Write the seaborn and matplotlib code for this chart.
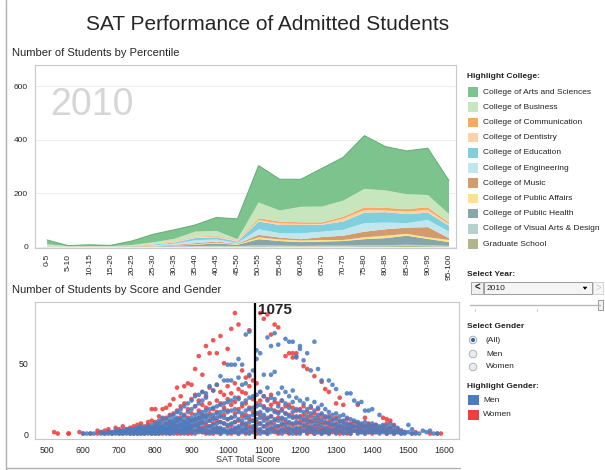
import numpy as np
import pandas as pd
import matplotlib
matplotlib.use("Agg")
import matplotlib.pyplot as plt
from matplotlib.patches import Rectangle, Circle, Polygon
import seaborn as sns

# ---- top chart: students per percentile band, by college ----
PERCENTILES = ["0-5", "5-10", "10-15", "15-20", "20-25", "25-30", "30-35", "35-40",
               "40-45", "45-50", "50-55", "55-60", "60-65", "65-70", "70-75", "75-80",
               "80-85", "85-90", "90-95", "95-100"]

arts      = [16, 2, 5, 3, 15, 30, 34, 25, 50, 76, 138, 117, 103, 143, 162, 199, 164, 162, 175, 125]
business  = [7, 2, 2, 2, 2, 5, 9, 19, 18, 3, 59, 41, 58, 59, 60, 69, 65, 55, 46, 32]
comm      = [0, 0, 0, 0, 1, 1, 2, 2, 3, 2, 7, 7, 6, 6, 7, 10, 10, 10, 10, 6]
dentistry = [1, 0, 0, 0, 1, 2, 3, 3, 3, 4, 5, 6, 4, 3, 11, 10, 6, 9, 10, 6]
education = [0, 0, 0, 0, 1, 3, 4, 8, 8, 5, 29, 31, 31, 26, 31, 39, 39, 34, 27, 22]
engineer  = [0, 0, 0, 0, 0, 2, 4, 11, 8, 3, 21, 16, 22, 20, 22, 32, 25, 17, 27, 24]
music     = [1, 1, 1, 1, 1, 1, 2, 4, 4, 2, 9, 7, 5, 11, 16, 21, 24, 23, 38, 7]
pub_aff   = [0, 0, 0, 0, 0, 1, 1, 2, 3, 2, 7, 6, 6, 6, 4, 7, 9, 7, 6, 8]
pub_hlth  = [0, 0, 0, 0, 1, 1, 3, 5, 9, 5, 23, 17, 14, 15, 17, 23, 26, 34, 23, 14]
vis_arts  = [1, 0, 0, 0, 0, 1, 1, 2, 2, 2, 3, 3, 2, 3, 3, 3, 4, 4, 4, 2]
grad      = [0, 0, 0, 0, 0, 0, 1, 1, 2, 1, 3, 2, 2, 2, 2, 3, 3, 4, 3, 2]

COLLEGES = ["College of Arts and Sciences", "College of Business", "College of Communication",
            "College of Dentistry", "College of Education", "College of Engineering",
            "College of Music", "College of Public Affairs", "College of Public Health",
            "College of Visual Arts & Design", "Graduate School"]
COLLEGE_COLORS = ["#7cc38e", "#c8e6bd", "#f9a862", "#fdd2aa", "#80cfdd", "#c0e6ee",
                  "#d39a6b", "#fce38a", "#86a6aa", "#b4d2cc", "#b3b58b"]

# ---- bottom chart: counts at each SAT score (one dot per college) ----
WOMEN = {
    520: [2], 530: [1], 560: [1, 1], 590: [2], 600: [1], 620: [1], 640: [3, 1], 650: [2],
    660: [3, 1], 670: [4, 2], 680: [2, 1], 690: [5, 2], 700: [4, 2, 1], 710: [6, 3, 1],
    720: [4, 2], 730: [5, 3, 1], 740: [6, 2, 1], 750: [7, 4, 1], 760: [8, 5, 2, 1],
    770: [6, 3, 1], 780: [7, 9, 4, 2], 790: [18, 10, 5, 2, 1], 800: [18, 9, 6, 3, 1],
    810: [13, 8, 5, 2, 1], 820: [18, 11, 6, 3, 1], 830: [19, 12, 8, 4, 2],
    840: [21, 14, 9, 5, 2, 1], 850: [25, 15, 8, 4, 2], 860: [33, 17, 11, 6, 3, 1],
    870: [27, 20, 12, 7, 3, 1], 880: [34, 22, 14, 9, 5, 2], 890: [36, 18, 12, 8, 4, 1],
    900: [35, 25, 15, 10, 6, 3, 1], 910: [46, 28, 20, 11, 7, 3], 920: [55, 24, 17, 12, 8, 4, 2],
    930: [42, 30, 21, 14, 9, 5, 2], 940: [62, 27, 19, 13, 7, 3, 1], 950: [57, 33, 22, 15, 10, 6, 2],
    960: [66, 31, 18, 12, 8, 4, 1], 970: [57, 35, 24, 16, 10, 5, 2], 980: [69, 30, 22, 13, 9, 4, 1],
    990: [50, 28, 19, 14, 8, 3], 1000: [60, 34, 25, 17, 11, 6, 2], 1010: [74, 29, 21, 12, 7, 3, 1],
    1020: [85, 36, 23, 15, 9, 4, 2], 1030: [77, 32, 26, 18, 10, 5, 1], 1040: [45, 30, 20, 13, 8, 3],
    1050: [40, 29, 22, 14, 7, 4, 1], 1060: [73, 41, 34, 19, 11, 6, 2], 1070: [38, 25, 16, 10, 5, 2],
    1080: [36, 22, 15, 9, 4, 1], 1090: [85, 30, 24, 14, 8, 3], 1100: [81, 27, 20, 12, 6, 2],
    1110: [84, 25, 18, 11, 7, 3, 1], 1120: [70, 28, 21, 13, 8, 4], 1130: [77, 23, 17, 10, 5, 2],
    1140: [75, 22, 16, 12, 6, 3, 1], 1150: [24, 18, 11, 7, 3], 1160: [55, 20, 15, 9, 5, 2],
    1170: [57, 21, 14, 8, 4, 1], 1180: [57, 54, 19, 13, 7, 3], 1190: [57, 17, 12, 8, 4, 1],
    1200: [18, 13, 9, 5, 2], 1210: [48, 20, 14, 10, 6, 3], 1220: [46, 16, 11, 7, 4, 1],
    1230: [19, 13, 9, 5, 2], 1240: [41, 15, 10, 6, 3, 1], 1250: [18, 12, 8, 4, 2],
    1260: [37, 14, 9, 5, 3, 1], 1270: [32, 12, 8, 4, 2], 1280: [30, 13, 9, 6, 3, 1],
    1290: [11, 7, 4, 2], 1300: [22, 12, 8, 5, 2], 1310: [26, 10, 6, 3, 1], 1320: [21, 9, 5, 2],
    1330: [11, 7, 4, 1], 1340: [8, 5, 3, 1], 1350: [9, 6, 3], 1360: [21, 8, 5, 2],
    1370: [7, 4, 2], 1380: [12, 6, 3, 1], 1390: [8, 5, 2], 1400: [6, 3, 1], 1410: [7, 4, 2],
    1420: [5, 2], 1430: [12, 6, 3], 1440: [11, 8, 4, 1], 1450: [10, 5, 2], 1460: [7, 3, 1],
    1470: [4, 2], 1480: [3, 1], 1490: [2], 1510: [1], 1520: [2], 1560: [1], 1580: [1], 1590: [1],
}

MEN = {
    600: [1], 610: [1], 620: [1], 630: [1], 650: [1, 2], 660: [1], 670: [2, 1], 680: [1, 2],
    690: [2, 1, 3], 700: [2, 1, 3], 710: [3, 1, 2], 720: [2, 4, 1], 730: [3, 1, 2, 4],
    740: [2, 4, 1, 3], 750: [5, 2, 1, 3], 760: [4, 2, 6, 1, 3], 770: [3, 5, 1, 2],
    780: [6, 3, 1, 4, 2], 790: [5, 2, 7, 1, 3], 800: [6, 3, 8, 1, 4, 2], 810: [7, 4, 1, 10, 2, 5],
    820: [9, 5, 2, 12, 3, 6], 830: [8, 4, 11, 1, 6, 2, 3], 840: [10, 6, 2, 13, 4, 1, 7],
    850: [11, 7, 3, 14, 5, 1, 9], 860: [12, 8, 4, 16, 6, 2, 10], 870: [15, 9, 5, 18, 7, 2, 11, 3],
    880: [13, 10, 6, 20, 8, 3, 1, 4], 890: [16, 11, 7, 22, 9, 4, 2, 5],
    900: [18, 12, 8, 24, 10, 5, 2, 6], 910: [20, 14, 9, 27, 11, 6, 3, 1],
    920: [22, 15, 10, 28, 12, 7, 3, 5], 930: [24, 16, 11, 30, 13, 8, 4, 2],
    940: [26, 17, 12, 29, 14, 9, 5, 2], 950: [34, 18, 13, 10, 6, 3, 1],
    960: [31, 19, 14, 11, 7, 4, 2], 970: [35, 20, 15, 12, 8, 5, 2], 980: [41, 21, 16, 13, 9, 5, 3, 1],
    990: [38, 22, 17, 12, 8, 4, 2], 1000: [49, 38, 23, 16, 11, 7, 3, 1],
    1010: [49, 38, 24, 17, 12, 8, 4, 2], 1020: [49, 26, 18, 13, 9, 5, 2],
    1030: [53, 40, 25, 16, 11, 6, 3, 1], 1040: [49, 35, 22, 15, 10, 7, 4, 2],
    1050: [70, 36, 24, 17, 12, 8, 5, 2], 1060: [72, 42, 26, 18, 13, 9, 4, 1],
    1070: [45, 27, 19, 14, 10, 6, 3], 1080: [59, 53, 28, 20, 15, 11, 7, 3],
    1090: [57, 30, 21, 16, 12, 8, 4, 1], 1100: [42, 27, 19, 14, 10, 6, 2],
    1110: [68, 33, 24, 17, 12, 8, 4, 1], 1120: [62, 42, 26, 18, 13, 9, 5, 2],
    1130: [71, 44, 25, 16, 11, 7, 3], 1140: [63, 29, 20, 15, 10, 6, 2],
    1150: [33, 24, 17, 12, 8, 4, 1], 1160: [67, 30, 22, 15, 11, 7, 3],
    1170: [65, 27, 19, 13, 9, 5, 2], 1180: [65, 31, 23, 16, 12, 8, 4, 1],
    1190: [55, 54, 26, 18, 13, 9, 5, 2], 1200: [62, 60, 24, 17, 12, 8, 4, 1],
    1210: [52, 22, 16, 11, 7, 3], 1220: [57, 25, 18, 13, 9, 5, 2], 1230: [45, 20, 15, 10, 6, 3],
    1240: [65, 23, 17, 12, 8, 4, 1], 1250: [46, 19, 14, 10, 6, 2], 1260: [38, 21, 15, 11, 7, 3, 1],
    1270: [18, 13, 9, 5, 2], 1280: [38, 16, 12, 8, 4, 1], 1290: [35, 14, 10, 7, 3],
    1300: [32, 15, 11, 7, 4, 1], 1310: [13, 9, 6, 3], 1320: [14, 10, 7, 4, 1],
    1330: [29, 12, 8, 5, 2], 1340: [29, 11, 7, 4, 1], 1350: [24, 10, 6, 3],
    1360: [22, 9, 6, 3, 1], 1370: [23, 8, 5, 2], 1380: [17, 9, 6, 3, 1], 1390: [17, 7, 4, 2],
    1400: [18, 8, 5, 2], 1410: [7, 4, 2], 1420: [14, 6, 3, 1], 1430: [7, 4, 2], 1440: [6, 3, 1],
    1450: [8, 5, 2], 1460: [6, 3, 1], 1470: [5, 2], 1480: [3, 1], 1490: [2, 1], 1500: [7, 2],
    1510: [4, 1], 1520: [1], 1530: [1], 1540: [3], 1550: [2], 1560: [3], 1570: [1], 1580: [1],
}
GENDER_COLORS = {"Men": "#4a7cc0", "Women": "#ee3f3f"}
MEDIAN_SCORE = 1075
YEAR = "2010"

sns.set_style("white")
plt.rcParams["font.family"] = ["Liberation Sans", "DejaVu Sans"]

fig = plt.figure(figsize=(6.05, 4.70), dpi=100)
W, H = 605, 470

def box(l, t, r, b):
    return [l / W, 1 - b / H, (r - l) / W, (b - t) / H]

# ---------- stacked area ----------
ax1 = fig.add_axes(box(35, 65, 456, 248))
x = np.arange(len(PERCENTILES))
layers = [arts, business, comm, dentistry, education, engineer, music, pub_aff, pub_hlth, vis_arts, grad]
ax1.stackplot(x, *layers[::-1], colors=COLLEGE_COLORS[::-1], linewidth=0.4, edgecolor="none")
ax1.plot(x, np.sum(layers, axis=0), color="#62ad75", lw=0.7)
ax1.set_xlim(-0.57, 19.33)
ax1.set_ylim(-4, 680)
ax1.set_yticks([0, 200, 400, 600])
ax1.grid(axis="y", color="#ececec", lw=0.7)
ax1.set_axisbelow(True)
ax1.set_xticks(x)
ax1.set_xticklabels(PERCENTILES, rotation=90, fontsize=6)
ax1.set_xticks(x[:-1] + 0.5, minor=True)
ax1.tick_params(axis="x", which="major", length=0, pad=4)
ax1.tick_params(axis="x", which="minor", length=4, color="#c8c8c8")
ax1.tick_params(axis="y", length=3, color="#c8c8c8", labelsize=6, pad=2)
for sp in ax1.spines.values():
    sp.set_color("#c8c8c8")
    sp.set_linewidth(0.8)
ax1.text(0.036, 0.727, YEAR, transform=ax1.transAxes, fontsize=27, color="#d6d6d6")

# ---------- scatter ----------
ax2 = fig.add_axes(box(35, 302, 459, 439))
rows = [(s, c, "Women") for s, cs in WOMEN.items() for c in cs]
rows += [(s, c, "Men") for s, cs in MEN.items() for c in cs]
df = pd.DataFrame(rows, columns=["score", "count", "gender"])
sns.scatterplot(data=df, x="score", y="count", hue="gender", palette=GENDER_COLORS,
                s=11, alpha=0.88, linewidth=0, legend=False, ax=ax2)
ax2.axvline(MEDIAN_SCORE, color="black", lw=1.6)
ax2.set_xlim(467, 1640)
ax2.set_ylim(-2.8, 92.7)
ax2.text(MEDIAN_SCORE + 8, 92.2, str(MEDIAN_SCORE), fontsize=11, fontweight="bold", va="top")
ax2.set_xticks(range(500, 1601, 100))
ax2.set_yticks([0, 50])
ax2.set_xlabel("")
ax2.set_ylabel("")
ax2.tick_params(axis="x", length=3, color="#c8c8c8", labelsize=6.3, pad=2)
ax2.tick_params(axis="y", length=4, color="#c8c8c8", labelsize=6.3, pad=1)
for sp in ax2.spines.values():
    sp.set_color("#c8c8c8")
    sp.set_linewidth(0.8)

# ---------- text, legends and controls ----------
ov = fig.add_axes([0, 0, 1, 1], zorder=-1)
ov.set_xlim(0, W)
ov.set_ylim(H, 0)
ov.axis("off")
ov.plot([6, 6], [0, H], color="#b0b0b0", lw=1)
ov.plot([6, 460], [468, 468], color="#b0b0b0", lw=1)

fig.text(268 / W, 1 - 24 / H, "SAT Performance of Admitted Students", fontsize=15,
         ha="center", va="center")
fig.text(12 / W, 1 - 53 / H, "Number of Students by Percentile", fontsize=8, va="center")
fig.text(12 / W, 1 - 290 / H, "Number of Students by Score and Gender", fontsize=8, va="center")
fig.text(248 / W, 1 - 460 / H, "SAT Total Score", fontsize=6.5, ha="center", va="center",
         color="#333333")

lab = dict(fontsize=6, va="center", color="#222222")
bold = dict(fontsize=6, va="center", fontweight="bold", color="#222222")

ov.text(467, 77, "Highlight College:", **bold)
for i, (name, col) in enumerate(zip(COLLEGES, COLLEGE_COLORS)):
    yy = 92 + i * 15.2
    ov.add_patch(Rectangle((468, yy - 4.8), 10, 9.6, facecolor=col, edgecolor="none"))
    ov.text(483, yy, name, **lab)

ov.text(467, 274, "Select Year:", **bold)
ov.add_patch(Rectangle((471, 282), 12, 12, facecolor="#f0f0f0", edgecolor="#9a9a9a", lw=0.6))
ov.text(477, 288, "<", fontsize=7, fontweight="bold", ha="center", va="center")
ov.add_patch(Rectangle((484, 282), 108, 12, facecolor="#f4f4f4", edgecolor="#8a8a8a", lw=0.6))
ov.text(487, 288, YEAR, **lab)
ov.add_patch(Polygon([[581, 286], [589, 286], [585, 291]], facecolor="black"))
ov.add_patch(Rectangle((593, 282), 10, 12, facecolor="#f6f6f6", edgecolor="#d0d0d0", lw=0.6))
ov.text(598, 288, ">", fontsize=7, ha="center", va="center", color="#c8c8c8")
ov.plot([470, 600], [305, 305], color="#b8b8b8", lw=1)
ov.plot([475, 475], [309, 311], color="#c0c0c0", lw=0.6)
ov.plot([537, 537], [309, 311], color="#c0c0c0", lw=0.6)
ov.add_patch(Rectangle((598, 300), 5, 10, facecolor="#f2f2f2", edgecolor="#888888", lw=0.6))

ov.text(467, 326, "Select Gender", **bold)
for yy, name, on in [(340, "(All)", True), (354, "Men", False), (367, "Women", False)]:
    ov.add_patch(Circle((473, yy), 3.8, facecolor="#e8ecf0", edgecolor="#a8a8a8", lw=0.6))
    if on:
        ov.add_patch(Circle((473, yy), 2.0, facecolor="#2b5ea8", edgecolor="none"))
    ov.text(486, yy, name, **lab)

ov.text(467, 387, "Highlight Gender:", **bold)
for yy, name in [(400, "Men"), (415, "Women")]:
    ov.add_patch(Rectangle((468, yy - 5), 11, 10, facecolor=GENDER_COLORS[name], edgecolor="none"))
    ov.text(483, yy, name, **lab)

fig.savefig("out.png", dpi=100)
